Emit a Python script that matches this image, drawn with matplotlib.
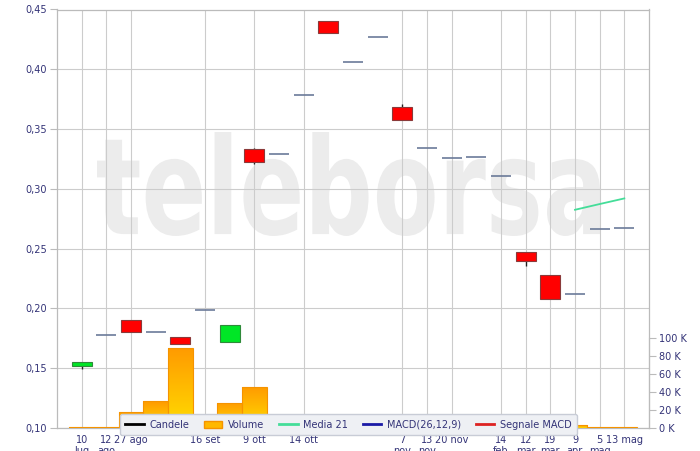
import matplotlib
matplotlib.use('Agg')
import matplotlib.pyplot as plt
import numpy as np
from matplotlib.patches import Rectangle, PathPatch
from matplotlib.textpath import TextPath
from matplotlib.font_manager import FontProperties
from matplotlib.lines import Line2D
from matplotlib.transforms import Affine2D
from matplotlib.colors import LinearSegmentedColormap

# ---------------- data ----------------
tick_labels = ['10\nlug', '12\nago', '27 ago', '', '', '16 set', '', '9 ott', '', '14 ott',
               '', '', '', '7\nnov', '13\nnov', '20 nov', '', '14\nfeb', '12\nmar',
               '19\nmar', '9\napr', '5\nmag', '13 mag']
open_ = [0.1520, 0.1778, 0.1904, 0.1803, 0.1764, 0.1987, 0.1722, 0.3331, 0.3294, 0.3782,
         0.4406, 0.4063, 0.4268, 0.3687, 0.3345, 0.3256, 0.3264, 0.3110, 0.2475, 0.2283,
         0.2119, 0.2665, 0.2673]
close = [0.1555, 0.1778, 0.1803, 0.1803, 0.1701, 0.1987, 0.1862, 0.3222, 0.3294, 0.3782,
         0.4306, 0.4063, 0.4268, 0.3576, 0.3345, 0.3256, 0.3264, 0.3110, 0.2400, 0.2079,
         0.2119, 0.2665, 0.2673]
high = [0.1555, 0.1778, 0.1904, 0.1803, 0.1764, 0.1987, 0.1862, 0.3340, 0.3294, 0.3782,
        0.4406, 0.4063, 0.4268, 0.3707, 0.3345, 0.3256, 0.3264, 0.3110, 0.2475, 0.2283,
        0.2119, 0.2665, 0.2673]
low = [0.1494, 0.1778, 0.1803, 0.1803, 0.1701, 0.1987, 0.1722, 0.3208, 0.3294, 0.3782,
       0.4306, 0.4063, 0.4268, 0.3576, 0.3345, 0.3256, 0.3264, 0.3110, 0.2358, 0.2079,
       0.2119, 0.2665, 0.2673]
volume = [1000, 1000, 18000, 30000, 89000, 5000, 28000, 46000, 4000, 6000,
          8000, 5000, 4000, 7000, 3000, 3000, 2000, 3000, 4000, 5000,
          3000, 800, 800]
media21 = [np.nan] * 20 + [0.2825, 0.2873, 0.2920]
vol_ticks = [0, 20000, 40000, 60000, 80000, 100000]
y_ticks = [0.10, 0.15, 0.20, 0.25, 0.30, 0.35, 0.40, 0.45]

# ---------------- style ----------------
W, H = 700, 451
navy = '#333377'
grid_c = '#cccccc'
spine_c = '#bbbbbb'
plt.rcParams['font.family'] = ['DejaVu Sans']

fig = plt.figure(figsize=(W / 100, H / 100), dpi=100)
ax = fig.add_axes([57 / W, 23 / H, 592 / W, 418.5 / H])
n = len(open_)

# watermark
tp = TextPath((0, 0), 'teleborsa', size=100,
              prop=FontProperties(family='DejaVu Sans', weight='bold'))
ext = tp.get_extents()
x0, x1, ytop, ybot = 97, 600, 132, 236
tr = (Affine2D().translate(-ext.x0, -ext.y0)
      .scale((x1 - x0) / ext.width, (ybot - ytop) / ext.height)
      .translate(x0, H - ybot).scale(1 / W, 1 / H))
wm = PathPatch(tr.transform_path(tp), transform=fig.transFigure,
               facecolor='#ececec', edgecolor='none', zorder=0.6)
ax.add_patch(wm)

# candles
for i in range(n):
    o, c, h, l = open_[i], close[i], high[i], low[i]
    if abs(o - c) < 1e-9:
        ax.plot([i - 0.4, i + 0.4], [o, o], color='#6b7a99', lw=1.2, zorder=3,
                solid_capstyle='butt')
        continue
    up = c > o
    fc = '#00e626' if up else '#ff0000'
    ec = '#2f8a3a' if up else '#8a3a3a'
    ax.vlines(i, l, h, color='#222222', lw=1.0, zorder=2.8)
    ax.add_patch(Rectangle((i - 0.4, min(o, c)), 0.8, abs(c - o), facecolor=fc,
                           edgecolor=ec, lw=0.8, zorder=3))

ax.plot(range(n), media21, color='#44dd99', lw=1.3, zorder=3)

ax.set_xlim(-1, 23)
ax.set_ylim(0.10, 0.45)
ax.set_yticks(y_ticks)
ax.set_yticklabels([f'{v:.2f}'.replace('.', ',') for v in y_ticks])
pos = [i for i, t in enumerate(tick_labels) if t]
ax.set_xticks(pos)
ax.set_xticklabels([tick_labels[i] for i in pos], linespacing=1.1)
ax.tick_params(axis='y', length=5, color=spine_c, labelcolor=navy, labelsize=7, pad=2)
ax.tick_params(axis='x', length=0, labelcolor=navy, labelsize=7, pad=5)
ax.grid(True, color=grid_c, lw=0.8, zorder=1.5)
for s in ax.spines.values():
    s.set_color(spine_c)
    s.set_linewidth(0.9)

# volume axis
axv = ax.twinx()
cmap = LinearSegmentedColormap.from_list('vol', ['#ffdc00', '#ff9a00'])
grad = np.linspace(0, 1, 128).reshape(-1, 1)
for i, v in enumerate(volume):
    rect = Rectangle((i - 0.5, 0), 1, v, facecolor='none', edgecolor='#f59300',
                     lw=0.8, zorder=2.2)
    axv.add_patch(rect)
    im = axv.imshow(grad, extent=(i - 0.5, i + 0.5, 0, v), aspect='auto', cmap=cmap,
                    origin='lower', zorder=2, interpolation='bilinear')
    im.set_clip_path(rect)
axv.set_xlim(-1, 23)
axv.set_ylim(0, 465000)
axv.set_yticks(vol_ticks)
axv.set_yticklabels([f'{v // 1000} K' for v in vol_ticks])
axv.tick_params(axis='y', length=5, color=spine_c, labelcolor=navy, labelsize=7, pad=2)
for k in ['top', 'left', 'bottom']:
    axv.spines[k].set_visible(False)
axv.spines['right'].set_bounds(0, 100000)
axv.spines['right'].set_color(spine_c)
ax.set_xlim(-1, 23)

# legend
handles = [
    Line2D([0], [0], color='black', lw=2),
    Rectangle((0, 0), 1, 1, facecolor='#ffb800', edgecolor='#f59300'),
    Line2D([0], [0], color='#44dd99', lw=2),
    Line2D([0], [0], color='#1a1aa6', lw=2),
    Line2D([0], [0], color='#dd2222', lw=2),
]
labels = ['Candele', 'Volume', 'Media 21', 'MACD(26,12,9)', 'Segnale MACD']
leg = fig.legend(handles, labels, ncol=5, loc='center',
                 bbox_to_anchor=(348.5 / W, 1 - 424.5 / H), fontsize=7,
                 frameon=True, facecolor='#eef0f4', edgecolor='#c8ccd6', framealpha=1,
                 handlelength=1.9, columnspacing=1.5, borderpad=0.55, handletextpad=0.6,
                 labelcolor=navy, fancybox=True)
leg.set_zorder(10)

fig.savefig('out.png', dpi=100)
